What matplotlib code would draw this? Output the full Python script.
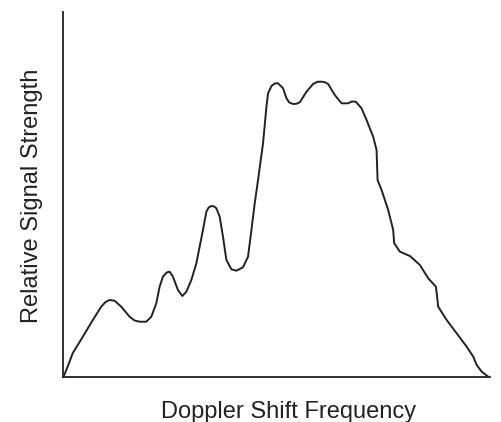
import matplotlib
matplotlib.use("Agg")
import matplotlib.pyplot as plt

# Doppler shift frequency (arbitrary units) and relative signal strength (arbitrary units)
freq = [0, 4, 9.3, 19.3, 29.3, 37.7, 42, 46, 51, 57.7, 66, 71, 76, 82.7, 87.7, 92.7, 96, 99.3,
        103, 106, 109.3, 114.3, 118.7, 122.7, 127.7, 132.7, 139.3, 142.7, 145, 147.7, 150.5,
        152.7, 156, 159.3, 162.7, 167.7, 172.7, 179.3, 184.3, 187.7, 191, 194.3, 199.3,
        202.7, 204.3, 207.7, 211, 214.3, 219.3, 222.7, 225.5, 229.3, 232.5, 236, 242.7,
        249.3, 253.5, 257.7, 261, 264.3, 271, 277.7, 284.3, 288, 292, 297.7, 302.7, 309.3,
        312.7, 313.7, 317.7, 324.3, 329.3, 330.3, 336, 346, 356, 364.3, 372, 374.3, 382.7,
        392.7, 402.7, 409.3, 412.7, 417.7, 424.3]
strength = [0, 10, 24, 40.3, 57, 70.3, 75, 77, 76.3, 70.3, 60.3, 56.5, 55.3, 55.3, 60.3,
            73.7, 90.3, 100.3, 104.5, 105.3, 100.3, 87, 81, 85.3, 97, 113.7, 147, 165.3,
            169.5, 171, 170.5, 168.7, 160.3, 140.3, 117, 107.7, 106.3, 109.7, 120.3, 147,
            173.7, 197, 233.7, 270.3, 283.7, 291, 293.5, 293.7, 288.7, 278.7, 274.5, 273,
            273.2, 274.7, 285.3, 293, 295.2, 295.3, 294.8, 293, 282, 273.7, 273.7, 275.5,
            275.3, 268.7, 257, 240.3, 227, 197, 187, 167, 147, 133.7, 125.3, 121, 112, 98.7,
            90.3, 70.3, 57, 43.7, 30.3, 20.3, 12, 5.3, 0.3]

plt.rcParams['font.family'] = ['Liberation Sans', 'DejaVu Sans']

fig = plt.figure(figsize=(5.02, 4.22), dpi=100)
ax = fig.add_axes([63.5/502, 45/422, (490-63.5)/502, (377-12)/422])
ax.plot(freq, strength, color='#222222', lw=1.4, solid_joinstyle='round', solid_capstyle='round')
ax.set_xlim(0, 426)
ax.set_ylim(0, 365)
ax.set_xticks([])
ax.set_yticks([])
for s in ['top', 'right']:
    ax.spines[s].set_visible(False)
for s in ['left', 'bottom']:
    ax.spines[s].set_linewidth(1.3)
    ax.spines[s].set_color('#222222')
fig.text(289/502, 1-412/422, 'Doppler Shift Frequency', ha='center', va='center', fontsize=17, color='#222222')
fig.text(32/502, 1-196/422, 'Relative Signal Strength', ha='center', va='center', rotation=90, fontsize=17, color='#222222')
fig.savefig('out.png', dpi=100)
